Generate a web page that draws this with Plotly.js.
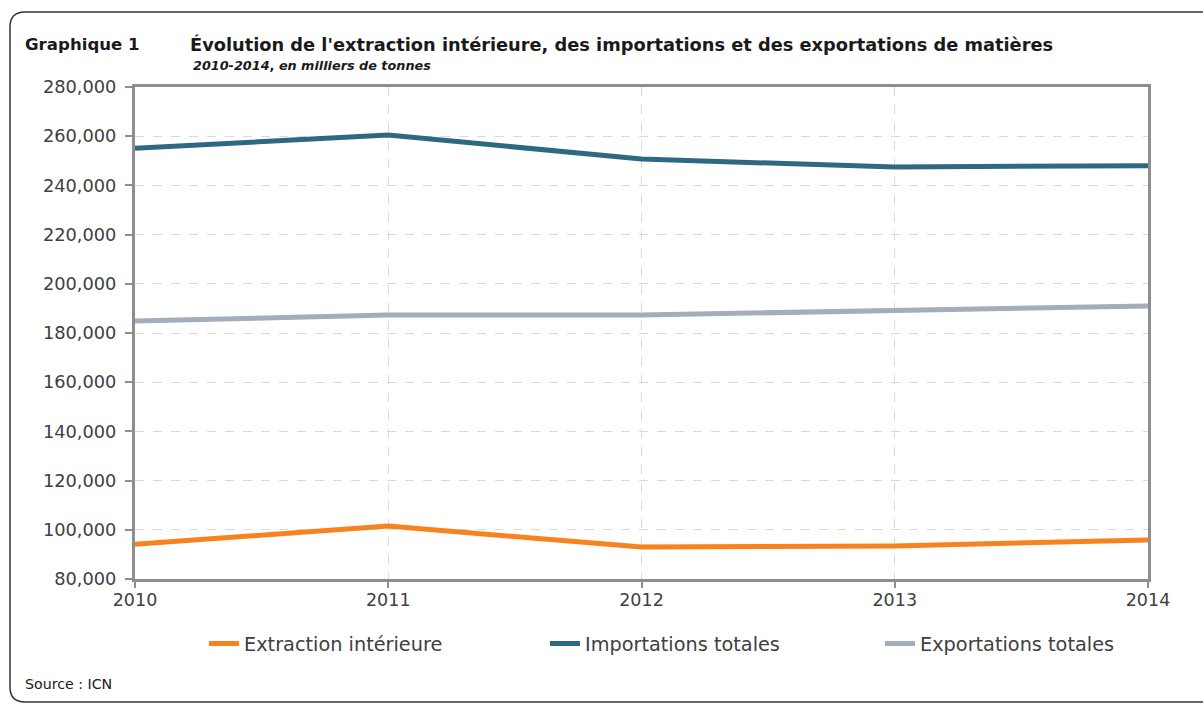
<!DOCTYPE html>
<html>
<head>
<meta charset="utf-8">
<script src="https://cdn.plot.ly/plotly-3.0.1.min.js"></script>
<style>html,body{margin:0;padding:0;background:#fff;}#chart{width:1203px;height:713px;}</style>
</head>
<body>
<div id="chart"></div>
<script>
const years = [2010, 2011, 2012, 2013, 2014];
const extraction = [94100, 101500, 93000, 93400, 95900];
const importations = [255100, 260500, 250700, 247500, 248000];
const exportations = [184900, 187300, 187300, 189300, 191000];
const seriesNames = ["Extraction intérieure", "Importations totales", "Exportations totales"];
const seriesColors = ["#F7821E", "#2D6982", "#A2AEBC"];
const yTicks = [80000, 100000, 120000, 140000, 160000, 180000, 200000, 220000, 240000, 260000, 280000];

const FONT = "DejaVu Sans, sans-serif";
const W = 1203, H = 713;
const L = 135, R = 1148, T = 87, B = 579;
const px = v => (v - L) / (R - L);
const py = v => (B - v) / (B - T);

const series = [extraction, importations, exportations];
const traces = series.map((ys, i) => ({
  x: years, y: ys, type: "scatter", mode: "lines",
  name: seriesNames[i],
  line: {color: seriesColors[i], width: 5},
  legend: i === 0 ? "legend" : "legend" + (i + 1),
  hoverinfo: "x+y"
}));

const legendBase = {
  orientation: "h", yanchor: "middle", xanchor: "left",
  font: {family: FONT, size: 19.3, color: "#404040"},
  bgcolor: "rgba(0,0,0,0)", itemwidth: 30, tracegroupgap: 0
};
const legendX = [204, 545, 880];

const rx = 15 / (R - L), ry = 15 / (B - T);
const fx0 = px(10), fy0 = py(12), fy1 = py(702), fx1 = px(1215);
const framePath = `M ${fx1} ${fy0} L ${fx0 + rx} ${fy0} Q ${fx0} ${fy0} ${fx0} ${fy0 - ry} L ${fx0} ${fy1 + ry} Q ${fx0} ${fy1} ${fx0 + rx} ${fy1} L ${fx1} ${fy1}`;

const layout = {
  width: W, height: H,
  margin: {l: L, r: W - R, t: T, b: H - B, pad: 0},
  paper_bgcolor: "#ffffff", plot_bgcolor: "#ffffff",
  font: {family: FONT, color: "#404040"},
  showlegend: true,
  title: {
    text: "<b>Évolution de l'extraction intérieure, des importations et des exportations de matières</b>",
    x: 190 / W, xanchor: "left", xref: "container",
    y: 1 - 45 / H, yanchor: "middle", yref: "container",
    font: {family: FONT, size: 17.8, color: "#1a1a1a"}
  },
  xaxis: {
    range: [2010, 2014], tickvals: years, ticktext: years.map(String),
    showline: true, mirror: true, linecolor: "#8E8E8E", linewidth: 3,
    ticks: "outside", ticklen: 6, tickwidth: 2, tickcolor: "#8E8E8E",
    ticklabelstandoff: -3,
    showgrid: true, gridcolor: "#D9D9D9", griddash: "dash", gridwidth: 1,
    zeroline: false, tickfont: {family: FONT, size: 17.5, color: "#404040"}
  },
  yaxis: {
    range: [80000, 280000], tickvals: yTicks, tickformat: ",",
    showline: true, mirror: true, linecolor: "#8E8E8E", linewidth: 3,
    ticks: "outside", ticklen: 7, tickwidth: 2, tickcolor: "#8E8E8E",
    ticklabelstandoff: 5,
    showgrid: true, gridcolor: "#D9D9D9", griddash: "dash", gridwidth: 1,
    zeroline: false, tickfont: {family: FONT, size: 17.8, color: "#404040"}
  },
  legend: Object.assign({}, legendBase, {x: px(legendX[0]), y: py(644)}),
  legend2: Object.assign({}, legendBase, {x: px(legendX[1]), y: py(644)}),
  legend3: Object.assign({}, legendBase, {x: px(legendX[2]), y: py(644)}),
  shapes: [{
    type: "path", xref: "paper", yref: "paper", path: framePath,
    line: {color: "#333333", width: 1.5}, layer: "below"
  }],
  annotations: [
    {text: "<b>Graphique 1</b>", xref: "paper", yref: "paper", x: px(23), y: py(45),
     xanchor: "left", yanchor: "middle", showarrow: false,
     font: {family: FONT, size: 16.6, color: "#1a1a1a"}},
    {text: "<b><i>2010-2014</i>, <i>en milliers de tonnes</i></b>", xref: "paper", yref: "paper", x: px(191), y: py(65),
     xanchor: "left", yanchor: "middle", showarrow: false,
     font: {family: FONT, size: 12.8, color: "#1a1a1a"}},
    {text: "Source : ICN", xref: "paper", yref: "paper", x: px(23), y: py(684),
     xanchor: "left", yanchor: "middle", showarrow: false,
     font: {family: FONT, size: 14.2, color: "#1a1a1a"}}
  ]
};

Plotly.newPlot("chart", traces, layout, {displayModeBar: false, staticPlot: true});
</script>
</body>
</html>
